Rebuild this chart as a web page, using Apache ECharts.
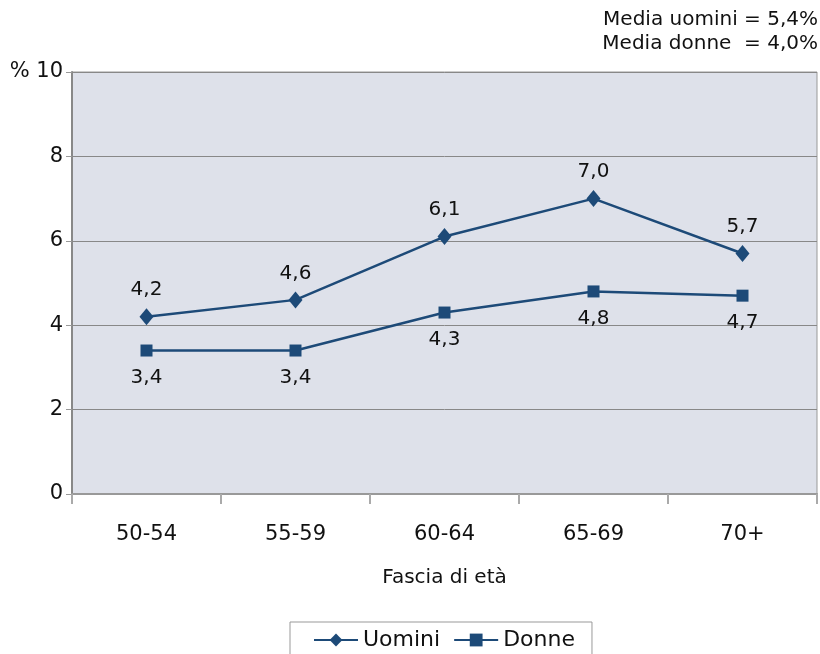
<!DOCTYPE html>
<html>
<head>
<meta charset="utf-8">
<script src="https://cdn.jsdelivr.net/npm/echarts@6/dist/echarts.min.js"></script>
<style>
  html, body { margin: 0; padding: 0; background: #fff; }
  #chart { width: 820px; height: 654px; }
</style>
</head>
<body>
<div id="chart"></div>
<script>
const categories = ['50-54', '55-59', '60-64', '65-69', '70+'];
const uomini = [4.2, 4.6, 6.1, 7.0, 5.7];
const donne = [3.4, 3.4, 4.3, 4.8, 4.7];
const yTicks = [0, 2, 4, 6, 8, 10];
const notes = ['Media uomini = 5,4%', 'Media donne  = 4,0%'];

const font = '"DejaVu Sans", sans-serif';
const blue = '#1d4a78';

const chart = echarts.init(document.getElementById('chart'));

const fmt = v => String(v).replace('.', ',').replace(/^(\d)$/, '$1,0');

chart.setOption({
  animation: false,
  textStyle: { fontFamily: font, color: '#111' },
  title: notes.map((t, i) => ({
    text: t,
    right: 2,
    top: 10 + i * 24,
    padding: 0,
    textStyle: { fontFamily: font, fontSize: 20, fontWeight: 'normal', color: '#111' }
  })),
  grid: {
    left: 72, right: 3, top: 72, bottom: 160,
    show: true,
    backgroundColor: '#dee1ea',
    borderColor: '#999',
    borderWidth: 1
  },
  legend: {
    left: 290,
    top: 622,
    itemWidth: 44,
    itemHeight: 16,
    itemGap: 13,
    padding: [7, 17, 8, 23],
    borderColor: '#999',
    borderWidth: 1,
    textStyle: { fontFamily: font, fontSize: 22, color: '#111' },
    data: ['Uomini', 'Donne']
  },
  xAxis: {
    type: 'category',
    data: categories,
    boundaryGap: true,
    name: 'Fascia di età',
    nameLocation: 'middle',
    nameGap: 74,
    nameTextStyle: { fontFamily: font, fontSize: 20, color: '#111' },
    axisLine: { lineStyle: { color: '#999', width: 2 } },
    axisTick: { show: true, length: 10, lineStyle: { color: '#aaa', width: 2 } },
    axisLabel: { margin: 30, fontSize: 21, color: '#111', fontFamily: font }
  },
  yAxis: {
    type: 'value',
    min: yTicks[0],
    max: yTicks[yTicks.length - 1],
    interval: 2,
    axisLine: { show: true, lineStyle: { color: '#888', width: 2 } },
    axisTick: { show: true, length: 6, lineStyle: { color: '#999' } },
    splitLine: { lineStyle: { color: '#888', width: 1 } },
    axisLabel: {
      margin: 9, fontSize: 21, color: '#111', fontFamily: font,
      formatter: v => (v === 10 ? '% 10' : String(v))
    }
  },
  series: [
    {
      name: 'Uomini',
      type: 'line',
      data: uomini,
      symbol: 'diamond',
      symbolSize: [14, 17],
      lineStyle: { color: blue, width: 2.5 },
      itemStyle: { color: blue },
      label: { show: true, position: 'top', distance: 8, fontSize: 20, color: '#111', fontFamily: font, formatter: p => fmt(p.value) }
    },
    {
      name: 'Donne',
      type: 'line',
      data: donne,
      symbol: 'rect',
      symbolSize: 12,
      lineStyle: { color: blue, width: 2.5 },
      itemStyle: { color: blue },
      label: { show: true, position: 'bottom', distance: 11, fontSize: 20, color: '#111', fontFamily: font, formatter: p => fmt(p.value) }
    }
  ]
});
</script>
</body>
</html>
